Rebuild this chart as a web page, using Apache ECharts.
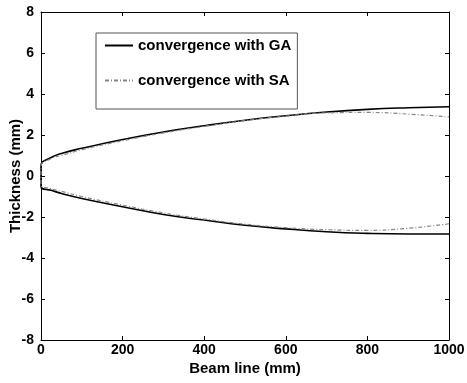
<!DOCTYPE html>
<html>
<head>
<meta charset="utf-8">
<script src="https://cdn.jsdelivr.net/npm/echarts@6/dist/echarts.min.js"></script>
<style>
	html, body { margin: 0; padding: 0; background: #fff; }
	#chart { width: 467px; height: 383px; }
</style>
</head>
<body>
<div id="chart"></div>
<script>
	// beam positions (mm)
	var beamX = [0, 25, 50, 100, 200, 300, 400, 500, 600, 700, 800, 900, 1000];

	// GA profile, upper and lower edge (mm)
	var gaUpper = [0.5, 0.9, 1.1, 1.35, 1.78, 2.15, 2.45, 2.72, 2.94, 3.12, 3.25, 3.33, 3.38];
	var gaLower = [-0.5, -0.7, -0.85, -1.1, -1.5, -1.88, -2.15, -2.4, -2.58, -2.72, -2.8, -2.83, -2.83];

	// SA profile, upper and lower edge (mm)
	var saUpper = [0.45, 0.85, 1.0, 1.28, 1.72, 2.1, 2.42, 2.7, 2.92, 3.08, 3.1, 3.02, 2.88];
	var saLower = [-0.4, -0.62, -0.75, -1.0, -1.42, -1.8, -2.1, -2.35, -2.52, -2.62, -2.65, -2.55, -2.33];

	var yTicks = [-8, -6, -4, -2, 0, 2, 4, 6, 8];
	var xTicks = [0, 200, 400, 600, 800, 1000];

	// one path per method: lower edge from the far end back to the nose, then the upper edge
	function profile(upper, lower)
	{
		var pts = [];
		for (var i = beamX.length - 1; i >= 0; i--)
			pts.push([beamX[i], lower[i]]);
		for (var j = 0; j < beamX.length; j++)
			pts.push([beamX[j], upper[j]]);
		return pts;
	}

	var font = '"Liberation Sans", Arial, sans-serif';

	function axisCommon()
	{
		return {
			axisLine: { show: true, onZero: false, lineStyle: { color: '#000', width: 1 } },
			axisTick: { show: true, inside: true, length: 4, lineStyle: { color: '#000' } },
			splitLine: { show: false }
		};
	}

	var labelStyle = { fontFamily: font, fontWeight: 'bold', fontSize: 14, color: '#000' };
	var nameStyle = { fontFamily: font, fontWeight: 'bold', fontSize: 15, color: '#000' };

	var chart = echarts.init(document.getElementById('chart'));

	chart.setOption({
		backgroundColor: '#fff',
		animation: false,
		grid: { left: 41, right: 18, top: 12, bottom: 43, containLabel: false, outerBoundsMode: 'none' },
		legend: {
			orient: 'vertical',
			left: 96,
			top: 33,
			padding: [5, 6, 21, 8],
			itemGap: 20,
			itemWidth: 28,
			itemHeight: 14,
			borderColor: '#555',
			borderWidth: 1,
			itemStyle: { opacity: 0 },
			textStyle: { fontFamily: font, fontWeight: 'bold', fontSize: 15, color: '#000' },
			data: ['convergence with GA', 'convergence with SA']
		},
		xAxis: [
			Object.assign({
				type: 'value',
				min: 0, max: 1000, interval: 200,
				name: 'Beam line (mm)',
				nameLocation: 'middle',
				nameGap: 21,
				nameMoveOverlap: false,
				nameTextStyle: nameStyle,
				axisLabel: Object.assign({
					margin: 3,
					formatter: function (v) { return xTicks.indexOf(v) >= 0 ? String(v) : ''; }
				}, labelStyle)
			}, axisCommon()),
			Object.assign({
				type: 'value', position: 'top',
				min: 0, max: 1000, interval: 200,
				axisLabel: { show: false }
			}, axisCommon())
		],
		yAxis: [
			Object.assign({
				type: 'value',
				min: -8, max: 8, interval: 2,
				name: 'Thickness (mm)',
				nameLocation: 'middle',
				nameGap: 18,
				nameMoveOverlap: false,
				nameTextStyle: nameStyle,
				axisLabel: Object.assign({
					margin: 7,
					formatter: function (v) { return yTicks.indexOf(v) >= 0 ? String(v) : ''; }
				}, labelStyle)
			}, axisCommon()),
			Object.assign({
				type: 'value', position: 'right',
				min: -8, max: 8, interval: 2,
				axisLabel: { show: false }
			}, axisCommon())
		],
		series: [
			{
				name: 'convergence with GA',
				type: 'line',
				smooth: true,
				symbol: 'none',
				color: '#000',
				lineStyle: { color: '#000', width: 1.6 },
				data: profile(gaUpper, gaLower)
			},
			{
				name: 'convergence with SA',
				type: 'line',
				smooth: true,
				symbol: 'none',
				color: '#888',
				lineStyle: { color: '#888', width: 1.2, type: [4, 2, 1, 2] },
				data: profile(saUpper, saLower)
			}
		]
	});
</script>
</body>
</html>
